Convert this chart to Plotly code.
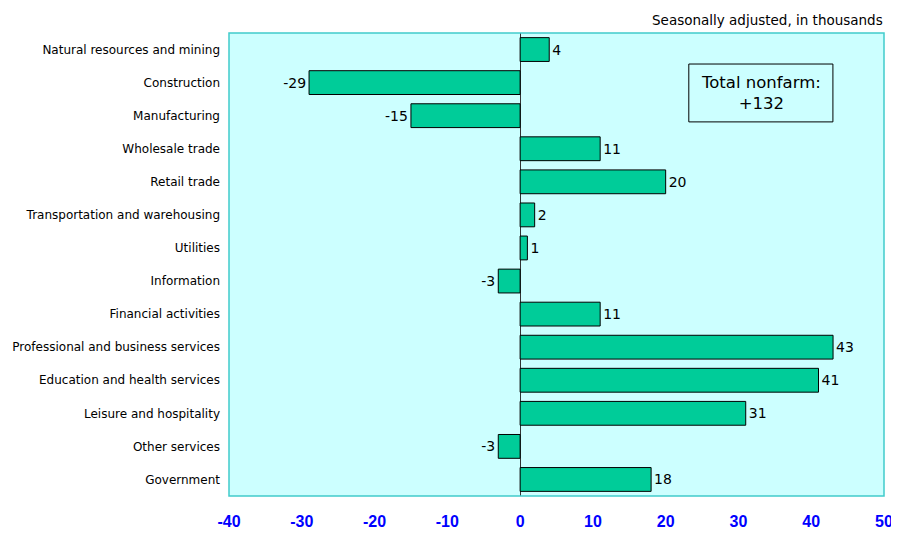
import plotly.graph_objects as go

categories = [
    "Natural resources and mining", "Construction", "Manufacturing",
    "Wholesale trade", "Retail trade", "Transportation and warehousing",
    "Utilities", "Information", "Financial activities",
    "Professional and business services", "Education and health services",
    "Leisure and hospitality", "Other services", "Government",
]
values = [4, -29, -15, 11, 20, 2, 1, -3, 11, 43, 41, 31, -3, 18]
tick_values = [-40, -30, -20, -10, 0, 10, 20, 30, 40, 50]
tick_labels = ["-40", "-30", "-20", "-10", "0", "10", "20", "30", "40", "50"]
subtitle = "Seasonally adjusted, in thousands"
total_text = "Total nonfarm:<br>+132"

FONT = "DejaVu Sans"

fig = go.Figure()
fig.add_trace(go.Bar(
    y=categories, x=values, orientation="h",
    marker=dict(color="#00CC99", line=dict(color="#000000", width=1)),
    width=0.72,
    text=[str(v) for v in values], textposition="outside",
    textfont=dict(family=FONT, size=14, color="#000000"),
    cliponaxis=False,
))

fig.update_layout(
    width=891, height=525,
    margin=dict(l=221, r=15, t=25, b=37),
    paper_bgcolor="white", plot_bgcolor="#CCFFFF",
    showlegend=False,
    font=dict(family=FONT, color="#000000"),
    xaxis=dict(
        range=[-40, 50], tickvals=tick_values, ticktext=tick_labels,
        showgrid=False, zeroline=True, zerolinecolor="#333333", zerolinewidth=1,
        tickfont=dict(family="Liberation Sans", size=16, color="#0000FF", weight="bold"),
        ticks="", showline=False, fixedrange=True, ticklabelstandoff=14,
        automargin=False,
    ),
    yaxis=dict(
        autorange="reversed", showgrid=False, ticks="",
        tickfont=dict(family=FONT, size=12, color="#000000"),
        ticklabelstandoff=8, automargin=False,
    ),
    bargap=0.28,
)

# plot-area border
fig.add_shape(type="rect", xref="paper", yref="paper", x0=0, x1=1, y0=0, y1=1,
              line=dict(color="#40CCCC", width=1.5), fillcolor="rgba(0,0,0,0)", layer="above")

# total box
fig.add_shape(type="rect", xref="paper", yref="paper", x0=0.702, x1=0.922, y0=0.808, y1=0.933,
              line=dict(color="#000000", width=1), fillcolor="rgba(0,0,0,0)")
fig.add_annotation(xref="paper", yref="paper", x=0.812, y=0.8705, text=total_text,
                   showarrow=False, font=dict(family=FONT, size=16.5, color="#000000"),
                   align="center", xanchor="center", yanchor="middle")

fig.add_annotation(xref="paper", yref="paper", x=1, y=1, text=subtitle,
                   showarrow=False, xanchor="right", yanchor="bottom", yshift=4,
                   borderpad=0,
                   font=dict(family=FONT, size=13.5, color="#000000"))

fig.write_html("out.html")
